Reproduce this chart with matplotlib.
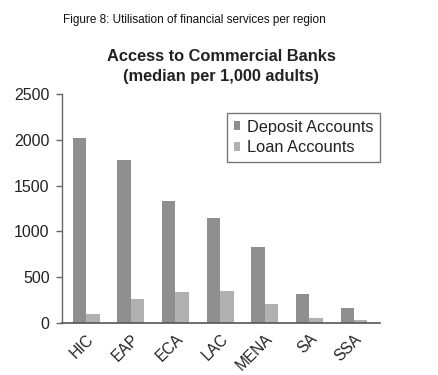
import matplotlib
matplotlib.use("Agg")
import matplotlib.pyplot as plt
import numpy as np

plt.rcParams['font.family'] = ['Liberation Sans', 'DejaVu Sans']

regions = ["HIC", "EAP", "ECA", "LAC", "MENA", "SA", "SSA"]
deposit = [2025, 1775, 1335, 1145, 825, 320, 165]
loan = [95, 262, 340, 352, 205, 50, 35]
series_names = ["Deposit Accounts", "Loan Accounts"]
yticks = [0, 500, 1000, 1500, 2000, 2500]

fig = plt.figure(figsize=(4.38, 3.75), dpi=100)
ax = fig.add_axes([62/438, 52/375, (380-62)/438, (323-94)/375])

x = np.arange(len(regions))
w = 0.3
dep_col = '#8f8f8f'
loan_col = '#b1b1b1'
ax.bar(x - w/2, deposit, width=w, color=dep_col, label=series_names[0])
ax.bar(x + w/2, loan, width=w, color=loan_col, label=series_names[1])

ax.set_xlim(-0.54, 6.58)
ax.set_ylim(0, 2500)
ax.set_yticks(yticks)
ax.set_xticks(x)
ax.set_xticklabels(regions, rotation=45, ha='right', va='top', rotation_mode='anchor')

for s in ['top', 'right']:
    ax.spines[s].set_visible(False)
ax.spines['left'].set_color('#666666')
ax.spines['bottom'].set_color('#555555')
ax.spines['left'].set_linewidth(1.0)
ax.spines['bottom'].set_linewidth(1.2)
ax.tick_params(axis='y', length=4, width=1, color='#666666', pad=5, labelsize=11.5, labelcolor='#222222')
ax.tick_params(axis='x', length=0, pad=6, labelsize=11.2, labelcolor='#222222')
for lbl in ax.get_xticklabels():
    lbl.set_x(lbl.get_position()[0])

ax.set_title("Access to Commercial Banks\n(median per 1,000 adults)", fontsize=11.8,
             fontweight='bold', color='#222222', pad=9, linespacing=1.45)

fig.text(63/438, 1 - 20/375, "Figure 8: Utilisation of financial services per region",
         fontsize=8.5, va='center', ha='left', color='#111111')

leg = ax.legend(loc='upper right', bbox_to_anchor=(380/438, 1 - 113/375),
                bbox_transform=fig.transFigure, fontsize=11.8, frameon=True,
                fancybox=False, edgecolor='#555555', handlelength=0.42, handleheight=0.42,
                handletextpad=0.4, labelspacing=0.35, borderpad=0.4, borderaxespad=0)
leg.get_frame().set_linewidth(1.0)
for t in leg.get_texts():
    t.set_color('#222222')

fig.savefig("out.png", dpi=100)
